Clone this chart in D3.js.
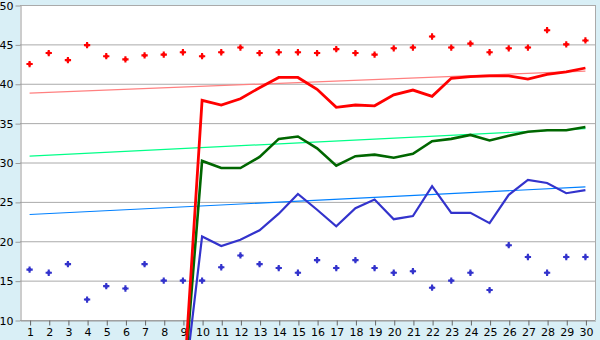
<!DOCTYPE html>
<html>
<head>
<meta charset="utf-8">
<script src="https://cdn.jsdelivr.net/npm/d3@7"></script>
<style>
  body { margin: 0; background: #d9eff6; }
  svg { display: block; }
  .tick text { font-family: "DejaVu Sans", Verdana, sans-serif; font-size: 11px; fill: #000; }
</style>
</head>
<body>
<div id="chart"></div>
<script>
const W = 600, H = 340
const M = { TOP: 5, RIGHT: 5, BOTTOM: 20, LEFT: 20 }

const days = d3.range(1, 31)
const yTicks = [10, 15, 20, 25, 30, 35, 40, 45, 50]

// upper scatter (red crosses)
const redPoints = [42.5, 43.9, 43.0, 44.9, 43.5, 43.1, 43.6, 43.7, 44.0, 43.5,
  44.0, 44.6, 43.9, 44.0, 44.0, 43.9, 44.4, 43.9, 43.7, 44.5,
  44.6, 46.0, 44.6, 45.1, 44.0, 44.5, 44.6, 46.8, 45.0, 45.5]
// lower scatter (blue crosses)
const bluePoints = [16.4, 16.0, 17.1, 12.6, 14.3, 14.0, 17.1, 15.0, 15.0, 15.0,
  16.7, 18.2, 17.1, 16.6, 16.0, 17.6, 16.6, 17.6, 16.6, 16.0,
  16.2, 14.1, 15.0, 16.0, 13.8, 19.5, 18.0, 16.0, 18.0, 18.0]

// thick lines, nothing before day 9
const redLine = [null, null, null, null, null, null, null, null, 0, 37.9,
  37.3, 38.1, 39.5, 40.8, 40.8, 39.3, 37.0, 37.3, 37.2, 38.6,
  39.2, 38.4, 40.7, 40.9, 41.0, 41.0, 40.6, 41.2, 41.5, 42.0]
const greenLine = [null, null, null, null, null, null, null, null, 0, 30.2,
  29.3, 29.3, 30.7, 33.0, 33.3, 31.8, 29.6, 30.8, 31.0, 30.6,
  31.1, 32.7, 33.0, 33.5, 32.8, 33.4, 33.9, 34.1, 34.1, 34.5]
const blueLine = [null, null, null, null, null, null, null, null, 0, 20.6,
  19.4, 20.2, 21.4, 23.5, 26.0, 24.0, 21.9, 24.2, 25.3, 22.8,
  23.2, 27.0, 23.6, 23.6, 22.3, 25.9, 27.8, 27.4, 26.1, 26.5]

// trend lines, value at day 1 and day 30
const trendDays = [1, 30]
const redTrend = [38.8, 41.6]
const greenTrend = [30.8, 34.3]
const blueTrend = [23.4, 26.9]

const svg = d3.select("#chart").append("svg")
  .attr("width", W).attr("height", H)

const x = d3.scalePoint()
  .domain(days)
  .range([M.LEFT, W - M.RIGHT])
  .padding(0.5)

const y = d3.scaleLinear()
  .domain([10, 50])
  .range([H - M.BOTTOM, M.TOP])

// plot background
svg.append("rect")
  .attr("x", M.LEFT).attr("y", M.TOP)
  .attr("width", W - M.RIGHT - M.LEFT)
  .attr("height", H - M.BOTTOM - M.TOP)
  .attr("fill", "#fff")

// gridlines
svg.append("g").selectAll("line")
  .data(yTicks)
  .enter().append("line")
    .attr("x1", M.LEFT).attr("x2", W - M.RIGHT)
    .attr("y1", d => y(d) + 0.5).attr("y2", d => y(d) + 0.5)
    .attr("stroke", "#aaa")

// right border
svg.append("line")
  .attr("x1", W - M.RIGHT + 0.5).attr("x2", W - M.RIGHT + 0.5)
  .attr("y1", M.TOP).attr("y2", H - M.BOTTOM)
  .attr("stroke", "#aaa")

const yAxis = svg.append("g")
  .attr("transform", `translate(${M.LEFT + 0.5}, 0.5)`)
  .call(d3.axisLeft(y).tickValues(yTicks).tickSize(5).tickSizeOuter(0).tickPadding(2))
const xAxis = svg.append("g")
  .attr("transform", `translate(0.5, ${H - M.BOTTOM + 0.5})`)
  .call(d3.axisBottom(x).tickSize(5).tickSizeOuter(0).tickPadding(3))
yAxis.selectAll("path, line").attr("stroke", "#999")
xAxis.selectAll("path, line").attr("stroke", "#666")
xAxis.select("path").attr("stroke", "#999")

const line = d3.line()
  .defined(d => d[1] != null)
  .x(d => x(d[0]))
  .y(d => y(d[1]))

function pairs(xs, vals) { return xs.map((d, i) => [d, vals[i]]) }

// trend lines
const trends = [
  { vals: redTrend, color: "#ff8080" },
  { vals: greenTrend, color: "#00ff88" },
  { vals: blueTrend, color: "#0080ff" }
]
trends.forEach(t => {
  svg.append("path")
    .datum(pairs(trendDays, t.vals))
    .attr("d", line)
    .attr("fill", "none")
    .attr("stroke", t.color)
    .attr("stroke-width", 1.2)
})

// main lines
const mains = [
  { vals: blueLine, color: "#3333cc", w: 2.2 },
  { vals: greenLine, color: "#006600", w: 2.6 },
  { vals: redLine, color: "#ff0000", w: 2.8 }
]
mains.forEach(s => {
  svg.append("path")
    .datum(pairs(days, s.vals))
    .attr("d", line)
    .attr("fill", "none")
    .attr("stroke", s.color)
    .attr("stroke-width", s.w)
})

// scatter crosses: thin plus with a solid centre
const cross = d3.symbol().type(d3.symbolCross).size(22)
const scatterSets = [
  { vals: redPoints, color: "#ff0000" },
  { vals: bluePoints, color: "#3333cc" }
]
scatterSets.forEach(s => {
  const g = svg.append("g").selectAll("g")
    .data(pairs(days, s.vals))
    .enter().append("g")
      .attr("transform", d => `translate(${x(d[0])}, ${y(d[1])})`)
  g.append("path").attr("d", cross).attr("fill", s.color)
  g.append("rect")
    .attr("x", -1.5).attr("y", -1.5).attr("width", 3).attr("height", 3)
    .attr("fill", s.color)
})
</script>
</body>
</html>
